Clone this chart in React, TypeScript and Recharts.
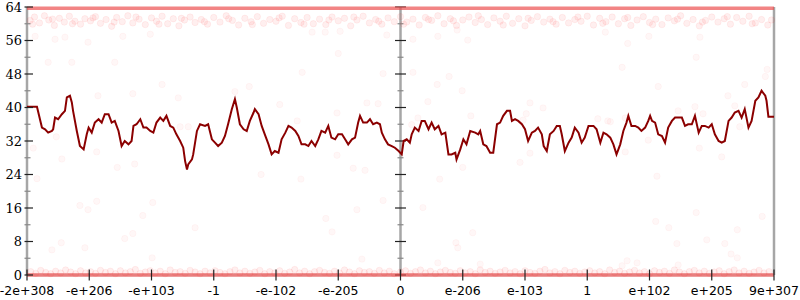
import React from "react";
import {ComposedChart, Line, ReferenceLine, Scatter, XAxis, YAxis} from "recharts";

const xLabels = ["-2e+308", "-e+206", "-e+103", "-1", "-e-102", "-e-205", "0", "e-206", "e-103", "1", "e+102", "e+205", "9e+307"];
const xTicks = xLabels.map((_, i) => i);
const yTicks = [0, 4, 8, 12, 16, 20, 24, 28, 32, 36, 40, 44, 48, 52, 56, 60, 64];

// the dark red walk, [position on axis, value]
const walk: [number, number][] = [
    [0, 40.2], [0.16, 40.2], [0.24, 35.2], [0.29, 34.8], [0.34, 34.0], [0.40, 34.4], [0.42, 34.8], [0.45, 37.6],
    [0.50, 37.2], [0.56, 38.4], [0.61, 39.2], [0.64, 42.4], [0.69, 42.8], [0.72, 41.2], [0.74, 39.2], [0.80, 34.4],
    [0.85, 30.8], [0.91, 30.0], [0.96, 33.6], [0.99, 35.2], [1.04, 34.0], [1.09, 36.4], [1.15, 37.2], [1.20, 36.4],
    [1.25, 38.4], [1.31, 38.4], [1.36, 36.4], [1.41, 36.8], [1.47, 34.4], [1.52, 30.8], [1.57, 32.0], [1.63, 31.2],
    [1.68, 32.0], [1.71, 35.6], [1.76, 36.0], [1.82, 37.2], [1.87, 35.2], [1.92, 35.2], [1.98, 34.4], [2.03, 34.0],
    [2.08, 36.4], [2.14, 37.6], [2.19, 36.8], [2.24, 38.0], [2.30, 35.6], [2.35, 35.2], [2.40, 33.6], [2.46, 32.0],
    [2.51, 30.4], [2.54, 27.2], [2.57, 25.2], [2.59, 26.4], [2.65, 27.6], [2.67, 28.8], [2.73, 34.4], [2.78, 36.0],
    [2.86, 35.6], [2.91, 36.0], [2.97, 32.4], [3.02, 31.6], [3.07, 30.8], [3.13, 31.6], [3.18, 33.2], [3.23, 36.0],
    [3.29, 39.6], [3.34, 42.0], [3.37, 40.0], [3.42, 36.0], [3.48, 34.8], [3.53, 34.4], [3.58, 36.8], [3.64, 38.8],
    [3.66, 39.6], [3.72, 38.4], [3.77, 35.6], [3.82, 33.6], [3.88, 31.2], [3.93, 28.8], [3.98, 29.6], [4.04, 29.2],
    [4.09, 32.4], [4.15, 34.0], [4.20, 35.6], [4.25, 35.2], [4.31, 34.4], [4.36, 33.2], [4.41, 31.2], [4.47, 31.2],
    [4.52, 30.8], [4.57, 32.0], [4.63, 30.8], [4.68, 32.4], [4.73, 34.4], [4.79, 34.0], [4.84, 35.6], [4.89, 32.8],
    [4.95, 32.4], [5.00, 33.6], [5.06, 33.6], [5.11, 32.4], [5.16, 31.2], [5.22, 32.4], [5.27, 32.8], [5.32, 36.4],
    [5.35, 38.0], [5.40, 36.4], [5.46, 36.4], [5.51, 37.2], [5.56, 36.0], [5.62, 36.4], [5.67, 36.0], [5.70, 34.0],
    [5.75, 32.4], [5.80, 31.2], [5.86, 30.8], [5.91, 30.4], [5.97, 29.6], [6.02, 28.8], [6.05, 32.0], [6.10, 32.4],
    [6.15, 31.6], [6.18, 33.6], [6.23, 35.2], [6.29, 34.4], [6.34, 36.8], [6.39, 36.8], [6.45, 34.8], [6.50, 36.4],
    [6.55, 34.8], [6.61, 35.6], [6.66, 33.6], [6.72, 34.0], [6.77, 28.8], [6.82, 28.8], [6.88, 29.2], [6.90, 27.6],
    [6.96, 30.0], [7.01, 32.4], [7.06, 31.2], [7.12, 34.4], [7.20, 34.0], [7.25, 33.6], [7.28, 34.4], [7.33, 31.2],
    [7.38, 30.8], [7.44, 29.2], [7.49, 29.2], [7.55, 36.0], [7.60, 36.4], [7.65, 38.0], [7.71, 39.2], [7.76, 39.2],
    [7.79, 36.8], [7.84, 37.2], [7.89, 36.8], [7.95, 36.0], [8.00, 34.8], [8.05, 32.0], [8.11, 34.0], [8.16, 34.4],
    [8.21, 35.2], [8.27, 33.6], [8.30, 30.8], [8.35, 29.6], [8.40, 33.6], [8.46, 34.4], [8.51, 35.6], [8.56, 35.6],
    [8.59, 33.6], [8.64, 29.6], [8.70, 31.6], [8.75, 32.8], [8.80, 35.2], [8.86, 34.0], [8.91, 31.6], [8.96, 32.8],
    [9.02, 35.6], [9.10, 35.6], [9.15, 34.8], [9.21, 31.6], [9.26, 34.0], [9.31, 33.6], [9.37, 32.8], [9.42, 31.2],
    [9.47, 28.8], [9.53, 31.2], [9.58, 34.4], [9.63, 36.4], [9.66, 38.0], [9.71, 35.6], [9.77, 35.6], [9.82, 35.2],
    [9.87, 34.4], [9.93, 35.2], [9.98, 36.8], [10.01, 38.0], [10.04, 36.8], [10.09, 36.4], [10.14, 33.6], [10.20, 33.2],
    [10.25, 31.6], [10.30, 35.2], [10.36, 36.8], [10.41, 37.6], [10.46, 37.6], [10.52, 37.6], [10.57, 35.6], [10.62, 36.0],
    [10.68, 36.0], [10.73, 38.0], [10.79, 34.0], [10.84, 35.6], [10.89, 35.6], [10.95, 35.2], [11.00, 36.0], [11.05, 33.6],
    [11.11, 32.0], [11.16, 31.6], [11.21, 32.0], [11.27, 36.8], [11.32, 37.6], [11.37, 38.8], [11.43, 39.2], [11.48, 37.6],
    [11.53, 39.6], [11.59, 35.2], [11.64, 36.8], [11.70, 41.6], [11.75, 42.4], [11.80, 44.0], [11.86, 42.8], [11.88, 41.6],
    [11.91, 37.8], [12.0, 37.8],
];

// faint dots just under the top edge
const topCloud: [number, number][] = [
    [0.05, 60.8], [0.12, 61.6], [0.2, 60.2], [0.28, 61.9], [0.35, 60.9], [0.44, 59.6], [0.52, 61.3], [0.6, 60.4], [0.68, 61.8],
    [0.77, 60.6], [0.86, 59.9], [0.93, 61.2], [1.02, 60.7], [1.1, 61.7], [1.18, 60.1], [1.27, 61.0], [1.36, 59.4], [1.44, 61.5],
    [1.53, 60.5], [1.62, 61.9], [1.7, 60.2], [1.8, 61.1], [1.9, 59.8], [2.0, 61.4], [2.08, 60.6], [2.17, 61.8], [2.26, 60.0],
    [2.35, 61.2], [2.44, 59.5], [2.53, 60.9], [2.62, 61.6], [2.7, 60.3], [2.8, 61.0], [2.9, 59.9], [3.0, 61.5], [3.1, 60.4],
    [3.2, 61.9], [3.3, 60.8], [3.4, 59.7], [3.5, 61.3], [3.6, 60.5], [3.7, 61.7], [3.8, 60.1], [3.9, 61.0], [4.0, 60.6],
    [4.1, 61.8], [4.2, 59.6], [4.3, 61.2], [4.4, 60.3], [4.5, 61.5], [4.6, 60.0], [4.7, 61.1], [4.8, 59.8], [4.9, 61.6],
    [5.0, 60.7], [5.1, 61.3], [5.2, 59.5], [5.3, 60.9], [5.4, 61.8], [5.5, 60.2], [5.6, 61.0], [5.7, 59.9], [5.8, 61.4],
    [5.9, 60.5], [6.0, 61.7], [6.1, 60.4], [6.2, 61.1], [6.3, 59.7], [6.4, 61.5], [6.5, 60.8], [6.6, 61.9], [6.7, 60.0],
    [6.8, 61.2], [6.9, 59.6], [7.0, 60.9], [7.1, 61.6], [7.2, 60.3], [7.3, 61.0], [7.4, 59.8], [7.5, 61.4], [7.6, 60.6],
    [7.7, 61.8], [7.8, 60.1], [7.9, 61.2], [8.0, 59.5], [8.1, 60.8], [8.2, 61.7], [8.3, 60.4], [8.4, 61.1], [8.5, 59.9],
    [8.6, 61.5], [8.7, 60.2], [8.8, 61.0], [8.9, 60.6], [9.0, 61.8], [9.1, 59.7], [9.2, 61.3], [9.3, 60.5], [9.4, 61.6],
    [9.5, 60.0], [9.6, 61.2], [9.7, 59.6], [9.8, 60.9], [9.9, 61.7], [10.0, 60.3], [10.1, 61.1], [10.2, 59.8], [10.3, 61.4],
    [10.4, 60.7], [10.5, 61.9], [10.6, 60.1], [10.7, 61.0], [10.8, 59.5], [10.9, 60.8], [11.0, 61.6], [11.1, 60.4],
    [11.2, 61.2], [11.3, 59.9], [11.4, 61.5], [11.5, 60.6], [11.6, 61.8], [11.7, 60.2], [11.8, 61.0], [11.9, 59.7], [11.96, 60.9],
    [0.09, 59.9], [0.41, 61.1], [0.73, 60.0], [1.06, 61.4], [1.4, 60.4], [1.75, 61.6], [2.12, 59.9], [2.48, 61.3],
    [2.85, 60.5], [3.24, 61.2], [3.62, 59.8], [4.05, 61.4], [4.45, 59.9], [4.85, 60.9], [5.25, 61.6], [5.65, 60.6],
    [6.05, 59.9], [6.45, 61.0], [6.85, 60.7], [7.25, 61.9], [7.65, 59.7], [8.05, 61.3], [8.45, 60.5], [8.85, 61.6],
    [9.25, 60.1], [9.65, 61.5], [10.05, 59.8], [10.45, 61.1], [10.85, 60.4], [11.25, 61.7], [11.65, 60.0],
];

// faint dots just above zero
const bottomCloud: [number, number][] = [
    [0.06, 0.8], [0.14, 0.4], [0.22, 1.1], [0.3, 0.6], [0.38, 0.3], [0.46, 0.9], [0.54, 0.5], [0.62, 1.2], [0.7, 0.7], [0.78, 0.3],
    [0.86, 1.0], [0.94, 0.5], [1.02, 0.8], [1.1, 0.4], [1.18, 1.1], [1.26, 0.6], [1.34, 0.9], [1.42, 0.3], [1.5, 1.0], [1.58, 0.5],
    [1.66, 0.8], [1.74, 1.3], [1.82, 0.4], [1.9, 0.7], [1.98, 1.0], [2.06, 0.5], [2.14, 0.9], [2.22, 0.3], [2.3, 1.2], [2.38, 0.6],
    [2.46, 0.8], [2.54, 0.4], [2.62, 1.1], [2.7, 0.7], [2.78, 0.3], [2.86, 0.9], [2.94, 0.5], [3.02, 1.0], [3.1, 0.6], [3.18, 0.3],
    [3.26, 0.8], [3.34, 1.2], [3.42, 0.5], [3.5, 0.9], [3.58, 0.4], [3.66, 0.7], [3.74, 1.1], [3.82, 0.3], [3.9, 0.8], [3.98, 0.5],
    [4.06, 1.0], [4.14, 0.4], [4.22, 0.7], [4.3, 1.3], [4.38, 0.5], [4.46, 0.9], [4.54, 0.3], [4.62, 0.8], [4.7, 1.1], [4.78, 0.6],
    [4.86, 0.4], [4.94, 0.9], [5.02, 0.5], [5.1, 1.2], [5.18, 0.7], [5.26, 0.3], [5.34, 1.0], [5.42, 0.6], [5.5, 0.8], [5.58, 0.4],
    [5.66, 1.1], [5.74, 0.5], [5.82, 0.9], [5.9, 0.3], [6.0, 0.7], [6.08, 1.0], [6.16, 0.4], [6.24, 0.8], [6.32, 1.2], [6.4, 0.5],
    [6.48, 0.9], [6.56, 0.3], [6.64, 0.7], [6.72, 1.1], [6.8, 0.6], [6.88, 0.4], [6.96, 1.0], [7.04, 0.5], [7.12, 0.8], [7.2, 0.3],
    [7.28, 1.2], [7.36, 0.6], [7.44, 0.9], [7.52, 0.4], [7.6, 0.7], [7.68, 1.1], [7.76, 0.5], [7.84, 0.8], [7.92, 0.3], [8.0, 1.0],
    [8.08, 0.6], [8.16, 0.4], [8.24, 0.9], [8.32, 1.3], [8.4, 0.5], [8.48, 0.8], [8.56, 0.3], [8.64, 1.1], [8.72, 0.6], [8.8, 0.9],
    [8.88, 0.4], [8.96, 0.7], [9.04, 1.0], [9.12, 0.5], [9.2, 0.8], [9.28, 0.3], [9.36, 1.2], [9.44, 0.6], [9.52, 0.9], [9.6, 0.4],
    [9.68, 0.7], [9.76, 1.1], [9.84, 0.5], [9.92, 0.8], [10.0, 0.3], [10.08, 1.0], [10.16, 0.6], [10.24, 0.9], [10.32, 0.4],
    [10.4, 1.2], [10.48, 0.7], [10.56, 0.3], [10.64, 0.8], [10.72, 1.1], [10.8, 0.5], [10.88, 0.9], [10.96, 0.4], [11.04, 0.7],
    [11.12, 1.0], [11.2, 0.3], [11.28, 0.8], [11.36, 1.2], [11.44, 0.5], [11.52, 0.9], [11.6, 0.4], [11.68, 0.7], [11.76, 1.1],
    [11.84, 0.5], [11.92, 0.8],
];

// the few scattered in between
const stray: [number, number][] = [
    [0.34, 50.8], [0.72, 50.8], [1.41, 50.8], [2.17, 45.5], [1.70, 43.3], [1.14, 42.8], [0.98, 55.6], [0.45, 56.3], [0.61, 56.8],
    [1.54, 57.0], [1.98, 57.5], [0.13, 57.0], [0.85, 16.6], [0.98, 15.6], [1.12, 17.6], [2.02, 17.3], [1.86, 14.2], [0.40, 6.0],
    [0.55, 7.7], [0.93, 6.5], [1.57, 8.7], [1.70, 9.9], [2.01, 4.1], [2.70, 11.3], [4.42, 48.4], [5.00, 52.9], [5.72, 48.1],
    [6.20, 48.4], [6.59, 45.5], [6.99, 44.0], [6.78, 47.4], [5.78, 57.3], [6.20, 56.3], [7.08, 56.1], [6.60, 57.0], [6.91, 58.5],
    [4.58, 58.0], [4.79, 58.0], [5.03, 58.2], [9.65, 55.3], [9.56, 49.6], [10.75, 52.0], [10.14, 45.0], [11.26, 42.8],
    [11.53, 45.5], [11.86, 47.4], [11.89, 49.1], [10.81, 56.8], [9.99, 57.0], [9.29, 58.0], [10.10, 12.8], [10.31, 11.3],
    [10.75, 14.9], [10.92, 8.4], [11.21, 7.5], [11.41, 10.8], [11.31, 5.0], [11.41, 4.1], [11.81, 14.0], [10.44, 7.5],
    [10.46, 2.4], [9.64, 3.4], [9.80, 2.9], [9.56, 2.2], [4.80, 13.5], [4.90, 10.3], [5.30, 15.6], [5.38, 3.8], [6.36, 16.1],
    [6.89, 7.7], [6.92, 6.5], [7.16, 10.1], [7.28, 2.6], [6.60, 2.9], [5.72, 17.8], [2.43, 42.3], [0.47, 33.0], [0.10, 30.3],
    [0.56, 27.7], [1.12, 29.4], [1.45, 25.7], [1.73, 26.5], [2.46, 35.4], [2.59, 35.4], [0.16, 23.0], [3.34, 43.8], [3.57, 45.0],
    [4.06, 40.7], [4.34, 36.8], [4.98, 38.7], [5.64, 40.9], [3.76, 24.0], [4.40, 22.9], [4.98, 28.6], [5.24, 25.5], [5.46, 41.1],
    [5.43, 25.0], [6.44, 41.4], [7.13, 38.0], [6.18, 35.9], [8.08, 41.1], [8.29, 39.9], [8.02, 38.5], [8.08, 29.1], [7.92, 26.9],
    [7.00, 25.7], [6.63, 22.9], [9.17, 37.3], [9.33, 36.8], [9.61, 37.5], [6.28, 37.5], [7.97, 37.0], [10.73, 40.2],
    [10.46, 39.2], [10.86, 38.5], [11.37, 40.4], [11.45, 35.4], [9.37, 36.6], [9.98, 32.2], [9.61, 29.4], [10.80, 30.3],
    [11.16, 28.2], [10.12, 23.6],
];

const toPoints = (arr: [number, number][]) => arr.map(([x, y]) => ({x, y}));
const walkData = toPoints(walk);
const cloudData = toPoints([...topCloud, ...bottomCloud]);
const strayData = toPoints(stray);

const AXIS_GREY = '#a6a6a6';
const TICK_DARK = '#222';
const TICK_LIGHT = '#888';

const LeftTick = (props: any) => {
    const {x, y, payload} = props;
    const major = payload.value % 8 === 0;
    return (
        <g>
            <line x1={x - 2.5} x2={x + (major ? 6 : 3.5)} y1={y} y2={y}
                  stroke={major ? TICK_DARK : TICK_LIGHT} strokeWidth={1.2}/>
            {major && (
                <text x={x - 5} y={y} dy={4.6} textAnchor="end"
                      fontFamily="DejaVu Serif" fontSize={13} fill="#000">
                    {payload.value}
                </text>
            )}
        </g>
    );
};

const RightTick = (props: any) => {
    const {x, y, payload} = props;
    const major = payload.value % 8 === 0;
    const d = major ? 6 : 3;
    return <line x1={x - d} x2={x + d} y1={y} y2={y} stroke={major ? TICK_DARK : TICK_LIGHT} strokeWidth={1.2}/>;
};

const BottomTick = (props: any) => {
    const {x, y, payload} = props;
    return (
        <g>
            <line x1={x} x2={x} y1={y - 5.5} y2={y + 5.5} stroke={TICK_DARK} strokeWidth={1.2}/>
            <text x={x} y={y + 19.5} textAnchor="middle" fontFamily="DejaVu Sans" fontSize={12.5} fill="#000">
                {xLabels[payload.value]}
            </text>
        </g>
    );
};

const CloudDot = (p: any) => (
    <circle cx={p.cx} cy={p.cy} r={3.2} fill="#ff2020" fillOpacity={0.07} stroke="#ff2020" strokeOpacity={0.06}/>
);

const StrayDot = (p: any) => (
    <circle cx={p.cx} cy={p.cy} r={3.2} fill="#ff2020" fillOpacity={0.035} stroke="#ff2020" strokeOpacity={0.03}/>
);

const App = () => {
    return (
        <div style={{position: 'absolute', left: 0, top: 0}}>
            <ComposedChart width={800} height={300} margin={{top: 7, right: 0, bottom: 0, left: 0}}>
                <XAxis type="number" dataKey="x" domain={[0, 12]} ticks={xTicks} interval={0}
                       height={25} axisLine={false} tickLine={false} tickSize={0} tickMargin={0}
                       tick={<BottomTick/>}/>
                <YAxis yAxisId="l" type="number" dataKey="y" domain={[0, 64]} ticks={yTicks} interval={0}
                       width={27} axisLine={false} tickLine={false} tickSize={0} tickMargin={0}
                       tick={<LeftTick/>}/>
                <YAxis yAxisId="r" orientation="right" type="number" domain={[0, 64]} ticks={yTicks} interval={0}
                       width={26} axisLine={false} tickLine={false} tickSize={0} tickMargin={0}
                       tick={<RightTick/>}/>

                <ReferenceLine yAxisId="l" x={0} stroke={AXIS_GREY} strokeWidth={2.5}/>
                <ReferenceLine yAxisId="l" x={6} stroke={AXIS_GREY} strokeWidth={2.5}/>
                <ReferenceLine yAxisId="l" x={12} stroke={AXIS_GREY} strokeWidth={2.5}/>
                {yTicks.map(v => {
                    const d = v % 8 === 0 ? 0.088 : 0.048;
                    return (
                        <ReferenceLine key={v} yAxisId="l" segment={[{x: 6 - d, y: v}, {x: 6 + d, y: v}]}
                                       stroke={v % 8 === 0 ? TICK_DARK : TICK_LIGHT} strokeWidth={1.2}/>
                    );
                })}

                <ReferenceLine yAxisId="l" y={63.7} stroke="#ec5050" strokeOpacity={0.7} strokeWidth={3.5}/>
                <ReferenceLine yAxisId="l" y={0} stroke="#e04848" strokeOpacity={0.7} strokeWidth={3.5}/>

                <Scatter yAxisId="l" data={cloudData} dataKey="y" shape={<CloudDot/>} isAnimationActive={false}/>
                <Scatter yAxisId="l" data={strayData} dataKey="y" shape={<StrayDot/>} isAnimationActive={false}/>
                <Line yAxisId="l" data={walkData} dataKey="y" type="linear" dot={false}
                      stroke="#8b0000" strokeWidth={2} isAnimationActive={false}/>
            </ComposedChart>
        </div>
    );
};

export default App;
